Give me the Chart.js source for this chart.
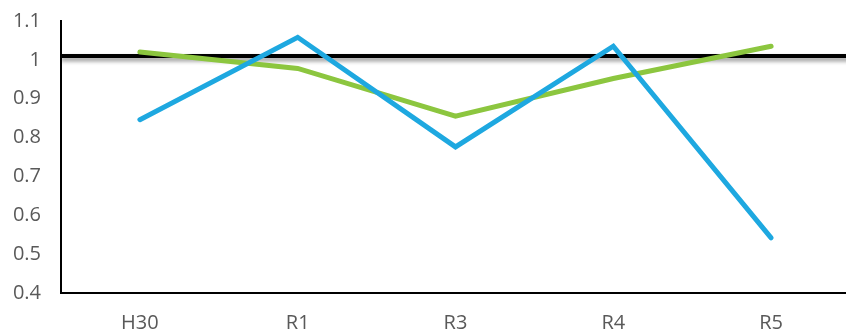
<!DOCTYPE html>
<html>
<head>
<meta charset="utf-8">
<script src="https://cdn.jsdelivr.net/npm/chart.js@4.4.0/dist/chart.umd.min.js"></script>
<style>
  html, body { margin: 0; padding: 0; background: #ffffff; overflow: hidden; }
  #wrap { position: relative; width: 850px; height: 331px; }
</style>
</head>
<body>
<div id="wrap"><canvas id="chart"></canvas></div>
<script>
// Survey years (Heisei 30, then Reiwa years)
const categories = ['H30', 'R1', 'R3', 'R4', 'R5'];
// Ratio series
const blueSeries = [0.846, 1.058, 0.776, 1.035, 0.542];
const greenSeries = [1.02, 0.978, 0.855, 0.952, 1.035];
// Reference level drawn as a thick horizontal rule
const referenceLevel = 1.01;
// Value-axis ticks
const yTicks = [0.4, 0.5, 0.6, 0.7, 0.8, 0.9, 1.0, 1.1];
const yTickLabels = ['0.4', '0.5', '0.6', '0.7', '0.8', '0.9', '1', '1.1'];

const FONT = "'Open Sans', 'Liberation Sans', sans-serif";

// Horizontal reference rule with a soft drop shadow, drawn beneath the series
const referenceRule = {
  id: 'referenceRule',
  beforeDatasetsDraw(chart) {
    const { ctx, chartArea, scales } = chart;
    const y = scales.y.getPixelForValue(referenceLevel);
    ctx.save();
    ctx.beginPath();
    ctx.rect(chartArea.left, 0, chart.width - chartArea.left, chart.height);
    ctx.clip();
    ctx.shadowColor = 'rgba(0,0,0,0.45)';
    ctx.shadowBlur = 4;
    ctx.shadowOffsetY = 3;
    ctx.strokeStyle = '#000000';
    ctx.lineWidth = 4;
    ctx.beginPath();
    ctx.moveTo(chartArea.left, y);
    ctx.lineTo(chartArea.right + 10, y);
    ctx.stroke();
    ctx.restore();
  }
};

new Chart(document.getElementById('chart'), {
  type: 'line',
  data: {
    labels: categories,
    datasets: [
      {
        data: blueSeries,
        borderColor: '#1EA8E0',
        borderWidth: 5,
        borderCapStyle: 'round',
        borderJoinStyle: 'miter',
        pointRadius: 0,
        tension: 0,
        fill: false
      },
      {
        data: greenSeries,
        borderColor: '#8CC63F',
        borderWidth: 5,
        borderCapStyle: 'round',
        borderJoinStyle: 'miter',
        pointRadius: 0,
        tension: 0,
        fill: false
      }
    ]
  },
  options: {
    responsive: true,
    maintainAspectRatio: false,
    animation: false,
    devicePixelRatio: 1,
    layout: { padding: { top: 21, right: 0, bottom: 0, left: 0 } },
    plugins: {
      legend: { display: false },
      tooltip: { enabled: false }
    },
    scales: {
      x: {
        type: 'category',
        offset: true,
        grid: { display: false, drawTicks: false },
        border: { display: true, color: '#000000', width: 2 },
        ticks: {
          color: '#595959',
          font: { family: FONT, size: 20 },
          padding: 18,
          maxRotation: 0
        },
        afterFit(scale) { scale.height = 38; }
      },
      y: {
        min: 0.4,
        max: 1.1,
        grid: { display: false, drawTicks: false },
        border: { display: true, color: '#000000', width: 2 },
        afterBuildTicks(scale) {
          scale.ticks = yTicks.map(v => ({ value: v }));
        },
        ticks: {
          color: '#595959',
          font: { family: FONT, size: 20 },
          padding: 20,
          callback(value) {
            const i = yTicks.findIndex(t => Math.abs(t - value) < 1e-9);
            return i >= 0 ? yTickLabels[i] : '';
          }
        },
        afterFit(scale) {
          scale.width = 61;
          // only half a label of headroom, independent of the label gap
          scale.paddingTop = 10;
          scale.paddingBottom = 10;
        }
      }
    }
  },
  plugins: [referenceRule]
});
</script>
</body>
</html>
